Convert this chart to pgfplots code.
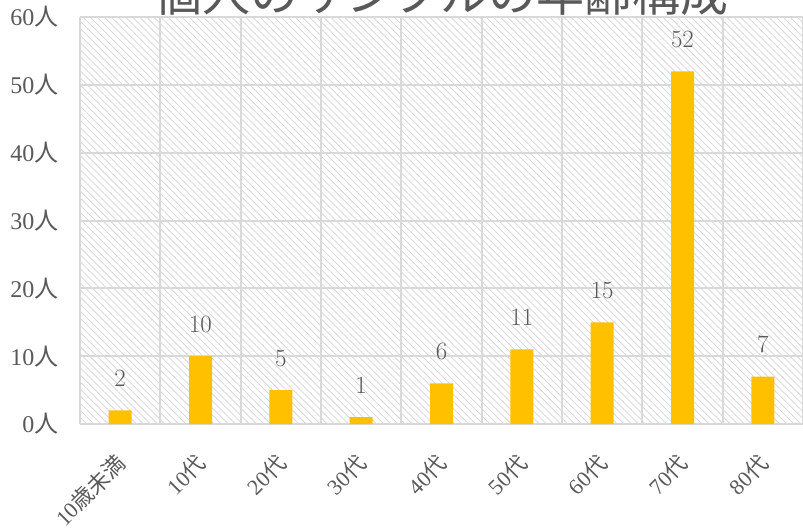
\documentclass[border=0pt]{standalone}
\usepackage{fontspec}
\setmainfont{Liberation Serif}
\newfontfamily\cjk{Noto Sans CJK JP}
\usepackage{pgfplots}
\pgfplotsset{compat=1.18}
\usetikzlibrary{patterns.meta}
\definecolor{txt}{HTML}{595959}
\definecolor{gridc}{HTML}{D9D9D9}
\definecolor{bar}{HTML}{FFC000}
\begin{document}
\begin{tikzpicture}[x=1pt,y=1pt]
\begin{axis}[
  at={(80pt,104pt)}, anchor=south west,
  scale only axis, width=723pt, height=407pt,
  xmin=-0.5, xmax=8.5, ymin=0, ymax=60,
  ybar, bar width=23pt,
  axis background/.style={pattern={Lines[angle=-45,distance=5pt,line width=0.9pt]}, pattern color=gray!28},
  axis line style={draw=none},
  axis x line*=bottom,
  x axis line style={draw=gridc, line width=2pt},
  xtick={0,...,8},
  minor xtick={-0.5,0.5,...,8.5},
  xminorgrids=true, xmajorgrids=false,
  ymajorgrids=true,
  grid style={draw=gridc, line width=2pt},
  minor grid style={draw=gridc, line width=2pt},
  major tick length=0pt, minor tick length=0pt,
  ytick={0,10,...,60},
  yticklabels={0{\cjk 人},10{\cjk 人},20{\cjk 人},30{\cjk 人},40{\cjk 人},50{\cjk 人},60{\cjk 人}},
  xticklabels={10{\cjk 歳未満},10{\cjk 代},20{\cjk 代},30{\cjk 代},40{\cjk 代},50{\cjk 代},60{\cjk 代},70{\cjk 代},80{\cjk 代}},
  yticklabel style={font=\fontsize{24}{26}\selectfont, text=txt, anchor=east, xshift=-18pt},
  xticklabel style={font=\fontsize{22}{24}\selectfont, text=txt, xshift=-6pt, yshift=-23pt, rotate=45, anchor=north east},
  nodes near coords,
  every node near coord/.append style={font=\fontsize{24}{26}\selectfont, text=txt, anchor=base, yshift=24pt},
  clip=false,
]
\addplot[fill=bar, draw=none] coordinates {(0,2) (1,10) (2,5) (3,1) (4,6) (5,11) (6,15) (7,52) (8,7)};
\node[anchor=base, text=txt, font=\fontsize{48}{50}\selectfont\cjk, yshift=5pt] at (rel axis cs:0.5,1) {個人のサンプルの年齢構成};
\end{axis}
\pgfresetboundingbox
\useasboundingbox (0,0) rectangle (803pt,528pt);
\end{tikzpicture}
\end{document}
